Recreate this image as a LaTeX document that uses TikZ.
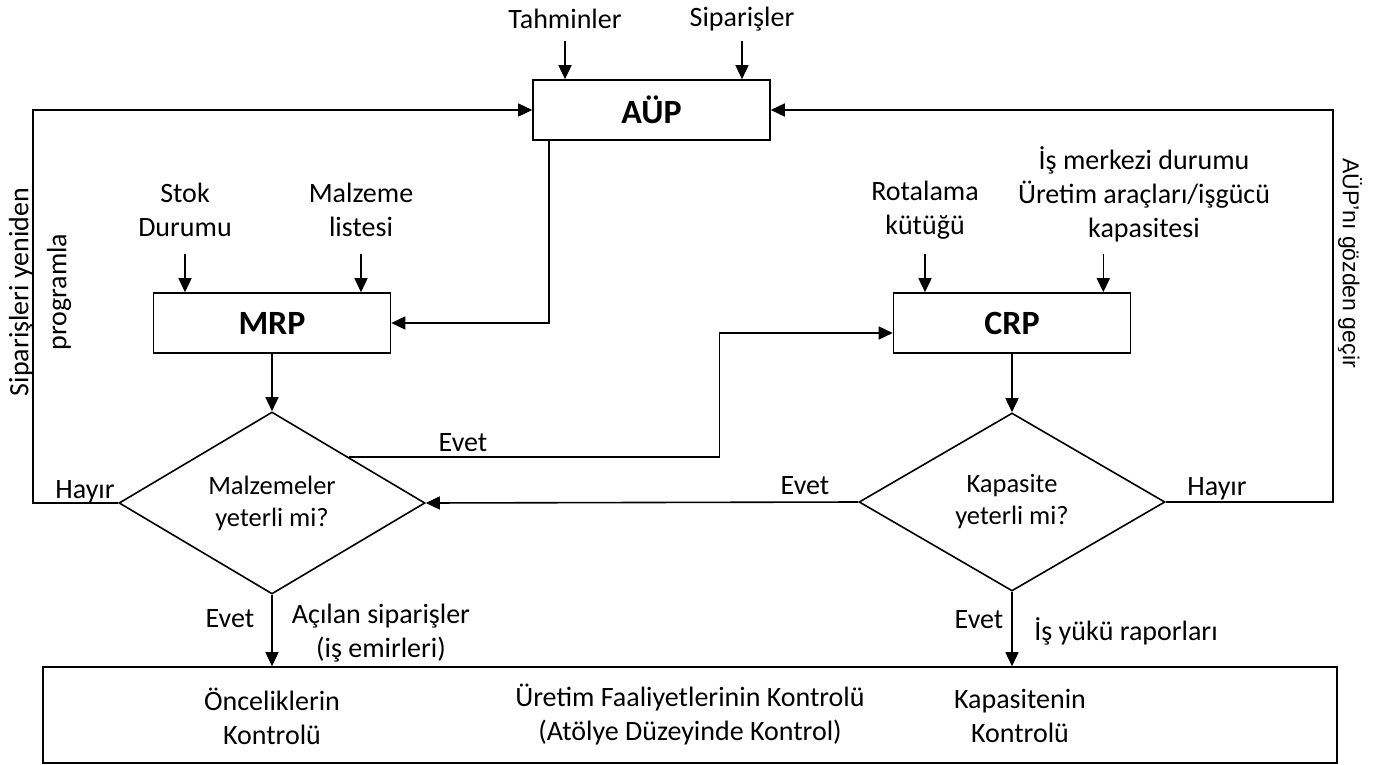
\documentclass[tikz,border=0pt]{standalone}
\usepackage{fontspec}
\setmainfont{Carlito}
\newfontfamily\arialfont{Liberation Sans}
\usetikzlibrary{arrows.meta,shapes.geometric}

\begin{document}
\begin{tikzpicture}[x=1pt,y=-1pt]
        \useasboundingbox (0,0) rectangle (1386,765);
        \tikzset{block/.style={draw, line width=1.6pt, minimum width=237pt, minimum height=60pt, inner sep=0pt, font=\fontsize{34}{40}\selectfont\bfseries},
                 decide/.style={draw, diamond, line width=1.6pt, minimum width=306pt, minimum height=178pt, inner sep=0pt, align=center, font=\fontsize{26.5}{32}\selectfont},
                 txt/.style={inner sep=2pt, align=center, font=\fontsize{28}{34}\selectfont},
                 arr/.style={line width=1.6pt, -{Triangle[length=14pt,width=13pt]}}}
        %
        \node[block] (aup) at (651.5,110) {AÜP};
        \node[block] (mrp) at (272,323) {MRP};
        \node[block] (crp) at (1012,323) {CRP};
        \node[decide] (dmalz) at (272,503) {Malzemeler\\yeterli mi?};
        \node[decide] (dkap) at (1012,502) {Kapasite\\yeterli mi?};
        \node[draw, line width=1.6pt, minimum width=1294pt, minimum height=96pt, txt] (uret) at (690,715) {Üretim Faaliyetlerinin Kontrolü\\(Atölye Düzeyinde Kontrol)};
        %
        \node[txt] (tah) at (565,19) {Tahminler};
        \node[txt] (sip) at (742,19) {Siparişler};
        \node[txt] (stok) at (185,210) {Stok\\Durumu};
        \node[txt] (malz) at (361,210) {Malzeme\\listesi};
        \node[txt] (rota) at (925,210) {Rotalama\\kütüğü};
        \node[txt] (isme) at (1144,194) {İş merkezi durumu\\Üretim araçları/işgücü\\kapasitesi};
        \node[txt] (once) at (272,716) {Önceliklerin\\Kontrolü};
        \node[txt] (kapk) at (1020,716) {Kapasitenin\\Kontrolü};
        %
        \draw[arr] (aup.north -| tah) ++(0,-38) -- (aup.north -| tah);
        \draw[arr] (aup.north -| sip) ++(0,-38) -- (aup.north -| sip);
        \draw[arr] (mrp.north -| stok) ++(0,-38) -- (mrp.north -| stok);
        \draw[arr] (mrp.north -| malz) ++(0,-38) -- (mrp.north -| malz);
        \draw[arr] (crp.north -| rota) ++(0,-38) -- (crp.north -| rota);
        \draw[arr] ([xshift=-28pt]crp.north east) ++(0,-38) -- ([xshift=-28pt]crp.north east);
        %
        \draw[arr] ([xshift=17pt]aup.south west) |- (mrp.east);
        \draw[arr] (mrp) -- (dmalz.north);
        \draw[arr] (crp) -- (dkap.north);
        \draw[arr] (dmalz.north east) -- ++(370.5,0) |- ([yshift=-10pt]crp.west);
        \draw[arr] (dkap.west) -- (dmalz.east);
        \draw[arr] (dmalz.west) -- ++(-85,0) |- (aup.west);
        \draw[arr] (dkap.east) -- ++(167,0) |- (aup.east);
        \draw[arr] (dmalz.south) -- (dmalz.south |- uret.north);
        \draw[arr] (dkap.south) -- (dkap.south |- uret.north);
        %
        \node[txt, anchor=base] (hay1) at (85,498) {Hayır};
        \node[txt, anchor=base] (hay2) at (1217,495) {Hayır};
        \node[txt, anchor=base] (evet1) at (463,451) {Evet};
        \node[txt, anchor=base] (evet2) at (805,494) {Evet};
        \node[txt, anchor=base] (evet3) at (230,627) {Evet};
        \node[txt, anchor=base] (evet4) at (979,628) {Evet};
        \node[txt] (acil) at (381,633) {Açılan siparişler\\(iş emirleri)};
        \node[txt] (isyk) at (1126,631) {İş yükü raporları};
        %
        \node[txt, rotate=90, font=\fontsize{28}{38}\selectfont] (yeni) at (40,292) {Siparişleri yeniden\\programla};
        \node[inner sep=2pt, rotate=-90, font=\arialfont\fontsize{23}{28}\selectfont] (gozd) at (1350,263) {AÜP’nı gözden geçir};
\end{tikzpicture}
\end{document}
